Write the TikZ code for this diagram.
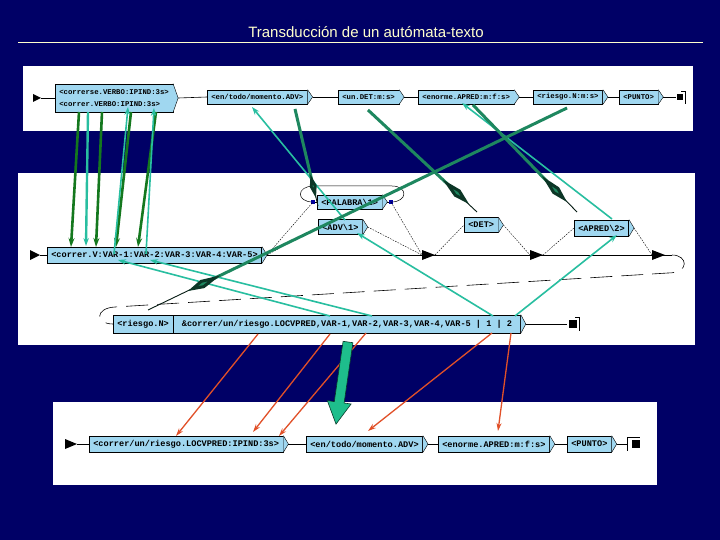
\documentclass[tikz,border=0pt]{standalone}
\usepackage{fontspec}
\setmainfont{Liberation Sans}
\newfontfamily\monof{Liberation Mono}
\usetikzlibrary{arrows.meta}
\definecolor{bg}{RGB}{0,0,102}
\definecolor{boxblue}{RGB}{160,215,240}
\definecolor{ttl}{RGB}{255,255,204}
\definecolor{dgreen}{RGB}{20,120,30}
\definecolor{sgreen}{RGB}{30,135,95}
\definecolor{teal2}{RGB}{40,190,160}
\definecolor{ored}{RGB}{225,80,40}
\definecolor{bgreen}{RGB}{30,190,140}
\definecolor{sqblue}{RGB}{0,0,160}
\newcommand\mychev[1]{%
  \filldraw[fill=boxblue,draw=black,line width=0.4pt] (#1.north east) -- ([xshift=5pt]#1.east) -- (#1.south east);
  \coordinate (#1o) at ([xshift=5pt]#1.east);}
\begin{document}
\begin{tikzpicture}[x=1pt,y=-1pt,
  ubox/.style={draw=black,line width=0.6pt,fill=boxblue,inner xsep=4pt,inner ysep=1pt,anchor=west,text=black},
  tfont/.style={font=\monof\bfseries\fontsize{7.3}{12}\selectfont,minimum height=14pt},
  mfont/.style={font=\monof\bfseries\fontsize{8.6}{10}\selectfont,minimum height=16pt},
  conn/.style={black,line width=0.6pt},
  dots/.style={black,line width=0.4pt,dash pattern=on 1.6pt off 1.2pt},
  loopdash/.style={black,line width=0.6pt,dash pattern=on 22pt off 9pt},
  gar/.style={dgreen,line width=2.6pt,-{Stealth[length=9pt,width=6pt]}},
  tar/.style={teal2,line width=1.6pt,-{Stealth[length=8pt,width=5.5pt]}},
  rar/.style={ored,line width=1.3pt,-{Stealth[length=8pt,width=5pt]}},
  kar/.style={sgreen,line width=3pt,-{Kite[length=36pt,width=9pt,inset=20pt,color=black!60!sgreen,fill=sgreen]}},
  kthin/.style={black!80!sgreen,line width=0.9pt},
]
\useasboundingbox (0,0) rectangle (720,540);
\fill[bg] (0,0) rectangle (720,540);

% title
\node[text=ttl,font=\fontsize{15}{18}\selectfont] (title) at (366,32) {Transducción de un autómata-texto};
\draw[ttl,line width=0.8pt] (18,42) -- (703,42);

% panels
\fill[white] (23,66) rectangle (693,131);
\fill[white] (18,173) rectangle (695,345);
\fill[white] (53,402) rectangle (657,485);

% ---------- top panel ----------
\fill (33,94) -- (41,98) -- (33,102) -- cycle;
\coordinate (i1) at (41,98);
\node[ubox,tfont,align=left,minimum height=28pt] (b1) at (55,98) {<correrse.VERBO:IPIND:3s>\\<correr.VERBO:IPIND:3s>};
\mychev{b1}
\node[ubox,tfont] (b2) at (207,97) {<en/todo/momento.ADV>};
\mychev{b2}
\node[ubox,tfont] (b3) at (338,97) {<un.DET:m:s>};
\mychev{b3}
\node[ubox,tfont] (b4) at (418,97) {<enorme.APRED:m:f:s>};
\mychev{b4}
\node[ubox,tfont] (b5) at (533,97) {<riesgo.N:m:s>};
\mychev{b5}
\node[ubox,tfont] (b6) at (619,97) {<PUNTO>};
\mychev{b6}
\coordinate (f1) at (676,97);
\draw[conn] (i1) -- (b1.west);
\draw[conn] (b1o) -- (b2.west);
\draw[conn] (b2o) -- (b3.west);
\draw[conn] (b3o) -- (b4.west);
\draw[conn] (b4o) -- (b5.west);
\draw[conn] (b5o) -- (b6.west);
\draw[conn] (b6o) -- (f1);
\fill (677,94) rectangle (683,100.5);
\draw[conn] (681,91) -- (685,91) -- (685,104);

% ---------- middle panel ----------
\fill (30,250) -- (40,255) -- (30,260) -- cycle;
\coordinate (i2) at (40,255);
\node[ubox,mfont] (A) at (47,255) {<correr.V:VAR-1:VAR-2:VAR-3:VAR-4:VAR-5>};
\mychev{A}
\node[ubox,mfont,minimum height=14pt] (P) at (317,202) {<PALABRA\textbackslash 1>};
\mychev{P}
\node[ubox,mfont,minimum height=15pt] (V) at (318,227) {<ADV\textbackslash 1>};
\mychev{V}
\node[ubox,mfont,minimum height=15pt] (D) at (464,225) {<DET>};
\mychev{D}
\node[ubox,mfont] (R) at (574,228) {<APRED\textbackslash 2>};
\mychev{R}
\node[ubox,mfont,minimum height=18pt] (N) at (113,324) {<riesgo.N>};
\node[ubox,mfont,minimum height=18pt,minimum width=347pt] (B) at (N.east) {\&correr/un/riesgo.LOCVPRED,VAR-1,VAR-2,VAR-3,VAR-4,VAR-5 | 1 | 2};
\mychev{B}

\coordinate (pin) at (313,202);
\coordinate (pout) at (391,202);
\coordinate (t1) at (422,255);
\coordinate (t1t) at (435,255);
\coordinate (t2) at (530,255);
\coordinate (t2t) at (543,255);
\coordinate (t3) at (652,255);
\coordinate (mend) at (672,255);
\draw[conn] (i2) -- (A.west);
\draw[conn] (Ao) -- (mend);
\draw[loopdash] (mend) .. controls (688,255) and (690,273) .. (668,273) -- (115,307) .. controls (95,308) and (95,324) .. (N.west);
\fill (422,250) -- (435,255) -- (422,260) -- cycle;
\fill (530,250) -- (543,255) -- (530,260) -- cycle;
\fill (652,250) -- (665,255) -- (652,260) -- cycle;
\draw[black,line width=0.5pt] (pin) .. controls (296,202) and (296,186) .. (314,186) -- (392,186) .. controls (408,186) and (408,202) .. (pout);
\draw[conn] (pin) -- (P.west);
\draw[conn] (Po) -- (pout);
\fill[sqblue] (311,200) rectangle (315,204);
\fill[sqblue] (389,200) rectangle (393,204);
\draw[dots] (Ao) -- (pin);
\draw[dots] (Ao) -- (V.west);
\draw[dots] (pout) -- (t1);
\draw[dots] (Vo) -- (t1);
\draw[dots] (t1t) -- (D.west);
\draw[dots] (Do) -- (t2);
\draw[dots] (t2t) -- (R.west);
\draw[dots] (Ro) -- (t3);
\coordinate (f2) at (567,324);
\draw[conn] (Bo) -- (f2);
\fill (569,320) rectangle (577,328);
\draw[conn] (575,317) -- (579,317) -- (579,331);

% ---------- bottom panel ----------
\fill (65,439) -- (77,444) -- (65,449) -- cycle;
\coordinate (i3) at (77,444);
\node[ubox,mfont] (C) at (89,444) {<correr/un/riesgo.LOCVPRED:IPIND:3s>};
\mychev{C}
\node[ubox,mfont] (Dd) at (306,444) {<en/todo/momento.ADV>};
\mychev{Dd}
\node[ubox,mfont] (E) at (438,444) {<enorme.APRED:m:f:s>};
\mychev{E}
\node[ubox,mfont] (F) at (567,444) {<PUNTO>};
\mychev{F}
\coordinate (f3) at (627,444);
\draw[conn] (i3) -- (C.west);
\draw[conn] (Co) -- (Dd.west);
\draw[conn] (Ddo) -- (E.west);
\draw[conn] (Eo) -- (F.west);
\draw[conn] (Fo) -- (f3);
\draw[conn] (627,437) -- (627,451);
\draw[conn] (627,437) -- (640,437);
\fill (632,440) rectangle (640,448);

% ---------- overlay arrows ----------
% dark green: top box 1 -> box A
\draw[gar] (79,112) -- (71,247);
\draw[gar] (102,112) -- (96,247);
\draw[gar] (131,112) -- (116,247);
\draw[gar] (156,112) -- (138,247);
% teal
\draw[tar,line width=2.4pt] (88,112) -- (86,246);
\draw[tar] (114,254) -- (128,107);
\draw[tar] (146,254) -- (154,108);
\draw[tar] (345,220) -- (252,107);
\draw[tar] (612,219) -- (462,103);
\draw[tar] (330,316) -- (118,260);
\draw[tar] (372,316) -- (150,260);
\draw[tar] (493,316) -- (357,233);
\draw[tar] (515,316) -- (617,235);
% kite arrows
\draw[kthin] (295,109) -- (318,206);
\draw[kar,-{Kite[length=24pt,width=7pt,inset=12pt,color=black!60!sgreen,fill=sgreen]}] (295,109) -- (316,198);
\draw[kthin] (368,110) -- (477,212);
\draw[kar] (368,110) -- (469,204);
\draw[kthin] (473,105) -- (577,212);
\draw[kar] (473,105) -- (567,202);
\draw[kthin] (567,108) -- (148,310);
\draw[kar] (567,108) -- (188,291);
% red
\draw[rar] (258,334) -- (176,436);
\draw[rar] (330,334) -- (253,432);
\draw[rar] (366,333) -- (279,436);
\draw[rar] (492,333) -- (368,431);
\draw[rar] (511,333) -- (498,431);
% block arrow
\filldraw[fill=bgreen,draw=black!70!bgreen,line width=0.6pt] (343.1,341.3) -- (352.9,342.7) -- (344.1,403.0) -- (351.1,404.0) -- (336,424.1) -- (327.3,400.6) -- (334.3,401.6) -- cycle;
\end{tikzpicture}
\end{document}
